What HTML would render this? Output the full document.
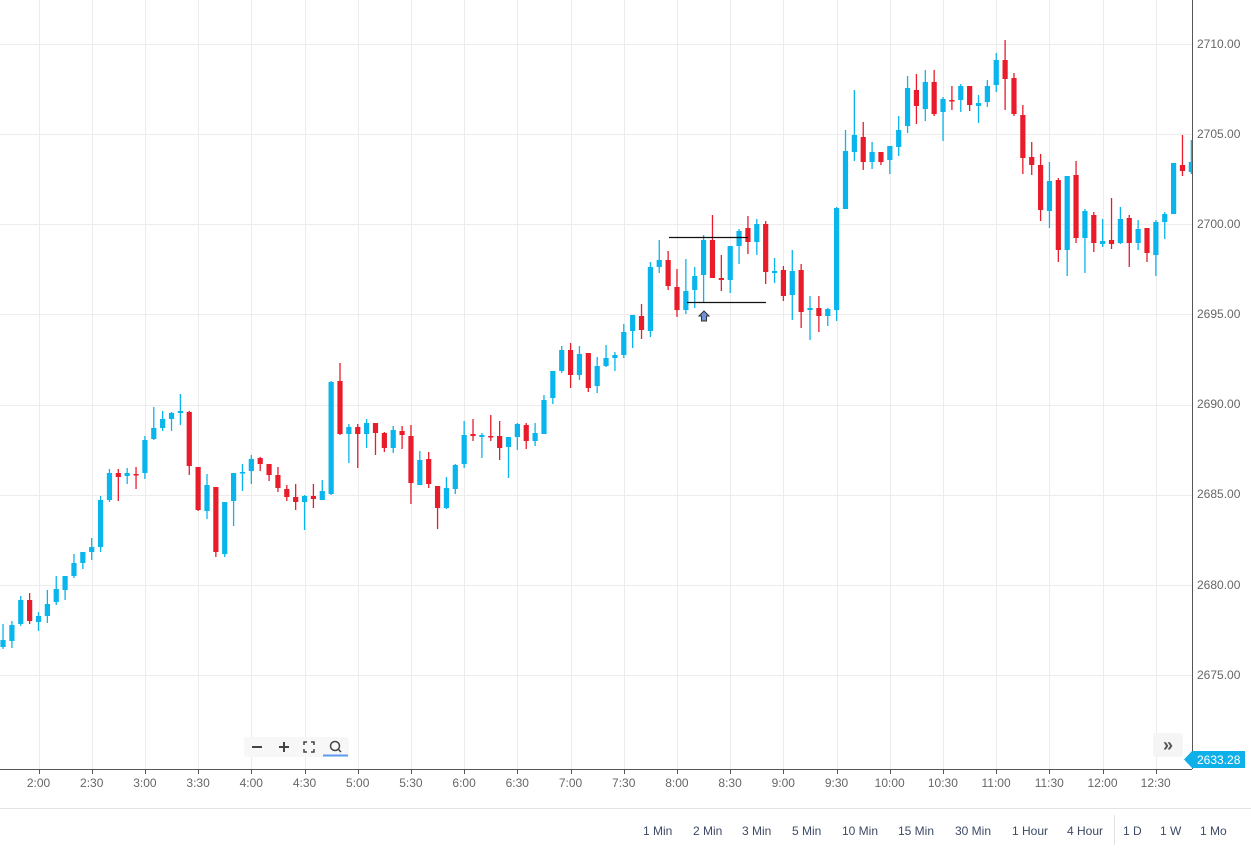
<!DOCTYPE html>
<html><head><meta charset="utf-8"><style>
html,body{margin:0;padding:0;background:#fff;width:1251px;height:851px;overflow:hidden;font-family:"Liberation Sans",sans-serif}
svg{display:block}
</style></head><body>
<svg id="s" width="1251" height="851" viewBox="0 0 1251 851" xmlns="http://www.w3.org/2000/svg">
<g id="grid" stroke="#ececec" stroke-width="1"></g>
<g id="candles"></g>
<line x1="669" y1="237.5" x2="748" y2="237.5" stroke="#111" stroke-width="1.2"/>
<line x1="687" y1="302.5" x2="766" y2="302.5" stroke="#111" stroke-width="1.2"/>
<path d="M704 311 L709 316 L706.5 316 L706.5 321 L701.5 321 L701.5 316 L699 316 Z" fill="#6f95d8" stroke="#333" stroke-width="1"/>
<line x1="1192.5" y1="0" x2="1192.5" y2="769" stroke="#555" stroke-width="1"/>
<line x1="0" y1="769.5" x2="1192" y2="769.5" stroke="#555" stroke-width="1"/>
<line x1="0" y1="808.5" x2="1251" y2="808.5" stroke="#e3e3e3" stroke-width="1"/>
<line x1="1114.5" y1="815" x2="1114.5" y2="845" stroke="#e3e3e3" stroke-width="1"/>
<g font-size="12" fill="#666">
<text x="1197" y="48">2710.00</text>
<text x="1197" y="138">2705.00</text>
<text x="1197" y="228">2700.00</text>
<text x="1197" y="318">2695.00</text>
<text x="1197" y="408">2690.00</text>
<text x="1197" y="498">2685.00</text>
<text x="1197" y="589">2680.00</text>
<text x="1197" y="679">2675.00</text>
</g>
<g id="tl" font-size="12" fill="#666" text-anchor="middle">
<text x="38.5" y="787">2:00</text><text x="91.7" y="787">2:30</text><text x="144.9" y="787">3:00</text><text x="198.1" y="787">3:30</text><text x="251.3" y="787">4:00</text><text x="304.5" y="787">4:30</text><text x="357.7" y="787">5:00</text><text x="410.9" y="787">5:30</text><text x="464.1" y="787">6:00</text><text x="517.3" y="787">6:30</text><text x="570.5" y="787">7:00</text><text x="623.7" y="787">7:30</text><text x="676.9" y="787">8:00</text><text x="730.1" y="787">8:30</text><text x="783.3" y="787">9:00</text><text x="836.5" y="787">9:30</text><text x="889.7" y="787">10:00</text><text x="942.9" y="787">10:30</text><text x="996.1" y="787">11:00</text><text x="1049.3" y="787">11:30</text><text x="1102.5" y="787">12:00</text><text x="1155.7" y="787">12:30</text>
</g>
<g font-size="12" fill="#3d4a66">
<text x="643" y="835">1 Min</text><text x="693" y="835">2 Min</text><text x="742" y="835">3 Min</text><text x="792" y="835">5 Min</text><text x="842" y="835">10 Min</text><text x="898" y="835">15 Min</text><text x="955" y="835">30 Min</text><text x="1012" y="835">1 Hour</text><text x="1067" y="835">4 Hour</text><text x="1123" y="835">1 D</text><text x="1160" y="835">1 W</text><text x="1200" y="835">1 Mo</text>
</g>
<rect x="244" y="737" width="105" height="20" rx="3" fill="#f7f7f7"/>
<g stroke="#444" stroke-width="2">
<line x1="252" y1="747" x2="262" y2="747"/><line x1="279" y1="747" x2="289" y2="747"/><line x1="284" y1="742" x2="284" y2="752"/>
</g>
<g stroke="#444" stroke-width="1.5" fill="none">
<path d="M304 745v-3h3M311 742h3v3M314 749v3h-3M307 752h-3v-3"/>
<circle cx="335" cy="746" r="4.5"/><line x1="338" y1="749" x2="341" y2="752"/>
</g>
<line x1="323" y1="755.5" x2="348" y2="755.5" stroke="#5b9cf0" stroke-width="2"/>
<rect x="1153" y="733" width="30" height="24" rx="3" fill="#f5f5f5"/>
<text x="1168" y="751" font-size="18" fill="#555" text-anchor="middle" font-weight="bold">»</text>
<path d="M1184 759.5 L1192 751 H1245 V768 H1192 Z" fill="#0fb0e8"/>
<text x="1197" y="764" font-size="12" fill="#fff">2633.28</text>
</svg>
<script>
var g=document.getElementById('grid'),ns='http://www.w3.org/2000/svg';
function ln(p,x1,y1,x2,y2){var l=document.createElementNS(ns,'line');l.setAttribute('x1',x1);l.setAttribute('y1',y1);l.setAttribute('x2',x2);l.setAttribute('y2',y2);p.appendChild(l);return l;}
for(var i=0;i<8;i++){var y=Math.round(44+i*90.14)+0.5;ln(g,0,y,1192,y);}
for(var i=0;i<22;i++){var x=Math.round(38.5+i*53.2)+0.5;ln(g,x,0,x,769);var t=ln(document.getElementById('s'),x,769,x,774);t.setAttribute('stroke','#555');}
var D=[[647,640,624,649],[641,625,621,648],[624,600,596,626],[600,621,593,624],[622,616,612,631],[616,604,590,623],[602,589,576,605],[590,576,576,600],[576,563,554,578],[563,552,552,569],[552,547,538,560],[547,500,496,552],[500,473,469,502],[473,477,469,501],[476,473,468,484],[474,475,467,489],[473,440,436,479],[439,428,407,440],[428,419,411,431],[419,413,412,431],[413,411,394,425],[412,466,411,475],[467,510,467,511],[511,485,474,519],[487,552,487,557],[554,502,502,557],[501,473,473,526],[473,472,464,491],[471,459,455,484],[458,464,457,471],[464,475,464,481],[475,488,467,492],[489,497,485,501],[497,502,484,510],[502,496,495,530],[496,499,484,508],[500,491,480,500],[494,382,381,495],[381,434,363,435],[434,427,424,463],[427,434,424,468],[434,423,419,448],[423,433,423,455],[433,448,432,452],[448,430,426,453],[431,435,426,449],[436,483,425,504],[485,460,451,485],[459,484,452,488],[486,508,486,529],[508,488,477,509],[489,465,464,494],[464,435,421,468],[434,436,419,441],[437,435,433,458],[436,437,415,441],[436,448,421,460],[447,437,437,478],[437,424,423,450],[425,441,423,449],[441,433,423,446],[434,400,395,434],[398,371,371,404],[371,350,346,373],[350,375,343,388],[375,354,346,380],[353,388,353,392],[386,366,357,393],[366,358,345,367],[358,355,352,371],[355,332,324,358],[331,315,315,348],[316,330,304,339],[331,267,262,337],[267,260,240,273],[260,286,251,290],[287,310,269,317],[310,291,259,314],[290,276,267,308],[275,240,235,302],[240,278,215,278],[278,280,255,291],[280,246,246,293],[246,231,229,264],[228,242,216,254],[242,224,219,255],[224,272,221,284],[273,271,258,283],[270,296,266,301],[295,271,250,320],[270,312,264,328],[310,308,296,340],[308,316,296,332],[316,309,308,326],[310,208,207,321],[209,151,130,209],[152,135,90,161],[137,162,122,170],[162,152,142,169],[152,162,152,165],[160,146,146,174],[147,130,116,156],[126,88,76,133],[90,106,74,124],[109,82,70,121],[82,114,70,116],[112,99,97,141],[100,101,86,110],[100,86,84,112],[86,105,86,111],[106,103,95,123],[102,86,80,107],[85,60,53,92],[60,79,40,110],[78,114,73,116],[115,158,105,174],[157,165,142,175],[165,210,154,221],[211,181,162,228],[180,250,178,262],[250,176,176,276],[175,238,161,243],[238,211,209,273],[215,243,212,252],[244,241,219,247],[240,244,198,249],[243,219,207,244],[218,243,215,267],[243,229,220,250],[228,253,228,262],[255,222,220,276],[222,214,212,239],[214,163,163,214],[165,171,135,176],[172,162,140,174]];
var c=document.getElementById('candles');
D.forEach(function(d,i){var x=38.5+8.868*(i-4);var up=d[1]<d[0];var col=up?'#08b5ec':'#e81c2b';
var w=ln(c,x,d[2],x,d[3]);w.setAttribute('stroke',col);w.setAttribute('stroke-width','1.3');
var r=document.createElementNS(ns,'rect');var t=Math.min(d[0],d[1]),h=Math.max(Math.abs(d[0]-d[1]),1.5);
r.setAttribute('x',x-2.6);r.setAttribute('y',t);r.setAttribute('width',Math.min(5.2,1192-(x-2.6)));r.setAttribute('height',h);r.setAttribute('fill',col);c.appendChild(r);});
</script>
</body></html>
